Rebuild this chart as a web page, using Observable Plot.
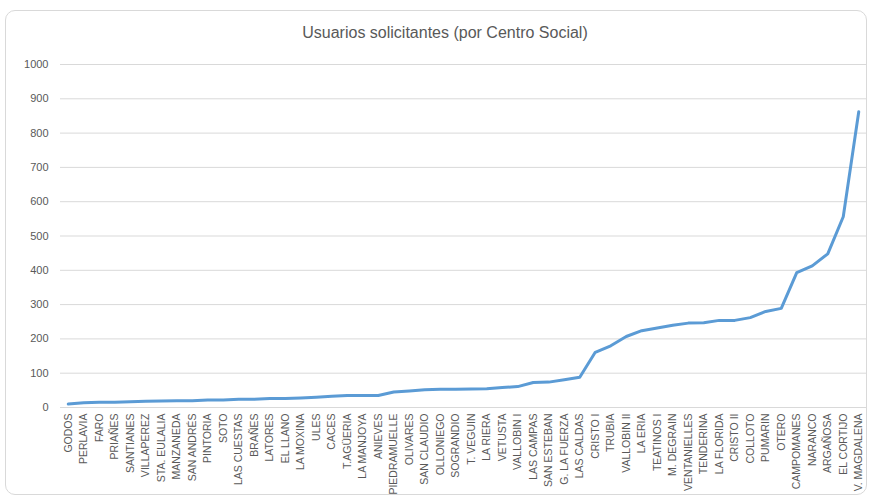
<!DOCTYPE html>
<html><head><meta charset="utf-8">
<script src="https://cdn.jsdelivr.net/npm/d3@7"></script>
<script src="https://cdn.jsdelivr.net/npm/@observablehq/plot@0.6"></script>
<style>
body{margin:0;background:#fff;}
#wrap{position:relative;width:872px;height:501px;overflow:hidden;font-family:"Liberation Sans",Arial,sans-serif;}
#frame{position:absolute;left:5px;top:10px;width:862px;height:485px;border:1px solid #d9d9d9;border-radius:10px;box-sizing:border-box;}
#title{position:absolute;top:24px;left:9px;width:872px;text-align:center;font-size:16px;color:#595959;}
#chart{position:absolute;top:50px;left:0;}
</style></head>
<body>
<div id="wrap">
  <div id="frame"></div>
  <div id="title">Usuarios solicitantes (por Centro Social)</div>
  <div id="chart"></div>
</div>
<script>
const centros = ["GODOS","PERLAVIA","FARO","PRIAÑES","SANTIANES","VILLAPEREZ","STA. EULALIA","MANZANEDA","SAN ANDRÉS","PINTORIA","SOTO","LAS CUESTAS","BRAÑES","LATORES","EL LLANO","LA MOXINA","ULES","CACES","T.AGÜERIA","LA MANJOYA","ANIEVES","PIEDRAMUELLE","OLIVARES","SAN CLAUDIO","OLLONIEGO","SOGRANDIO","T. VEGUIN","LA RIERA","VETUSTA","VALLOBIN I","LAS CAMPAS","SAN ESTEBAN","G. LA FUERZA","LAS CALDAS","CRISTO I","TRUBIA","VALLOBIN II","LA ERIA","TEATINOS I","M. DEGRAIN","VENTANIELLES","TENDERINA","LA FLORIDA","CRISTO II","COLLOTO","PUMARIN","OTERO","CAMPOMANES","NARANCO","ARGAÑOSA","EL CORTIJO","V. MAGDALENA"];
const usuarios = [10,14,15,15,17,18,19,20,20,22,22,24,24,26,26,28,30,33,35,35,35,45,48,52,53,53,54,55,58,61,73,74,81,88,161,180,207,224,232,240,246,247,254,254,262,280,289,393,413,448,556,862];
const yTicks = [0,100,200,300,400,500,600,700,800,900,1000];

const data = centros.map((c,i)=>({centro:c, usuarios:usuarios[i]}));

const chart = Plot.plot({
  width: 872,
  height: 451,
  marginTop: 14,
  marginBottom: 94,
  marginLeft: 60,
  marginRight: 6,
  style: {fontFamily: '"Liberation Sans",Arial,sans-serif', color: "#595959", background: "transparent"},
  x: {type: "point", domain: centros, padding: 0.5, round: false},
  y: {domain: [0, 1000]},
  marks: [
    Plot.ruleY(yTicks, {stroke: "#d9d9d9", strokeWidth: 1}),
    Plot.axisY({ticks: yTicks, tickFormat: d => String(d), tickSize: 0, tickPadding: 12, fontSize: 11, label: null}),
    Plot.axisX({tickSize: 0, tickPadding: 6, tickRotate: -90, fontSize: 10.5, label: null}),
    Plot.line(data, {x: "centro", y: "usuarios", stroke: "#5b9bd5", strokeWidth: 3, strokeLinejoin: "round", strokeLinecap: "round"})
  ]
});
document.getElementById("chart").appendChild(chart);
</script>
</body></html>
